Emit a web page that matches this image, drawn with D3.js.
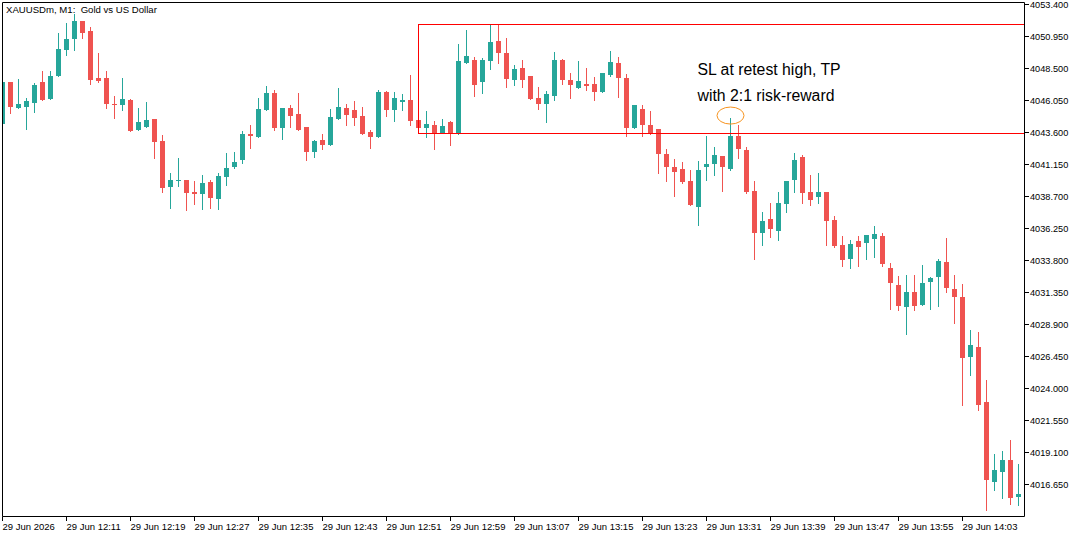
<!DOCTYPE html>
<html>
<head>
<meta charset="utf-8">
<script src="https://cdn.jsdelivr.net/npm/d3@7"></script>
<style>
  html, body { margin: 0; padding: 0; background: #fff; }
  svg { display: block; }
  text { font-family: "Liberation Sans", Arial, sans-serif; fill: #000; white-space: pre; }
</style>
</head>
<body>
<svg id="chart" width="1082" height="537"></svg>
<script>
// XAUUSDm M1 candles, 29 Jun 2026 12:03 - 14:10
const times = [
  "12:03","12:04","12:05","12:06","12:07","12:08","12:09","12:10","12:11","12:12","12:13","12:14","12:15","12:16","12:17","12:18","12:19","12:20","12:21","12:22",
  "12:23","12:24","12:25","12:26","12:27","12:28","12:29","12:30","12:31","12:32","12:33","12:34","12:35","12:36","12:37","12:38","12:39","12:40","12:41","12:42",
  "12:43","12:44","12:45","12:46","12:47","12:48","12:49","12:50","12:51","12:52","12:53","12:54","12:55","12:56","12:57","12:58","12:59","13:00","13:01","13:02",
  "13:03","13:04","13:05","13:06","13:07","13:08","13:09","13:10","13:11","13:12","13:13","13:14","13:15","13:16","13:17","13:18","13:19","13:20","13:21","13:22",
  "13:23","13:24","13:25","13:26","13:27","13:28","13:29","13:30","13:31","13:32","13:33","13:34","13:35","13:36","13:37","13:38","13:39","13:40","13:41","13:42",
  "13:43","13:44","13:45","13:46","13:47","13:48","13:49","13:50","13:51","13:52","13:53","13:54","13:55","13:56","13:57","13:58","13:59","14:00","14:01","14:02",
  "14:03","14:04","14:05","14:06","14:07","14:08","14:09","14:10"
];

const open = [
  4044.24,4047.51,4045.51,4045.59,4045.90,4047.48,4046.18,4047.96,4049.96,4050.80,4052.15,4051.39,4047.79,4047.79,4045.80,4045.74,4046.13,4043.83,4044.04,4044.67,
  4042.97,4039.39,4039.93,4039.98,4039.06,4038.85,4039.83,4038.47,4040.16,4040.92,4041.53,4043.50,4043.22,4045.36,4046.64,4043.98,4045.49,4045.03,4044.04,4042.07,
  4043.04,4042.68,4044.65,4045.49,4045.34,4044.88,4043.65,4043.29,4046.72,4045.29,4045.97,4046.10,4044.57,4043.98,4044.19,4043.60,4044.42,4043.55,4048.96,4049.17,
  4047.51,4049.11,4050.62,4049.70,4047.66,4048.55,4047.94,4046.26,4045.82,4046.43,4049.17,4047.64,4047.05,4047.33,4047.33,4046.74,4048.04,4048.94,4047.79,4043.91,
  4045.42,4044.19,4043.88,4041.97,4040.97,4040.82,4039.90,4037.86,4040.92,4041.15,4041.82,4040.84,4043.35,4042.28,4039.14,4035.87,4036.99,4036.02,4038.09,4039.93,
  4041.74,4039.06,4038.62,4039.06,4036.92,4035.00,4033.88,4035.31,4035.10,4035.41,4035.69,4033.24,4031.94,4030.20,4031.40,4030.36,4032.12,4032.50,4033.70,4031.63,
  4030.95,4026.37,4027.19,4022.91,4016.81,4017.57,4018.47,4015.69
];

const high = [
  4047.55,4047.51,4047.71,4046.23,4047.38,4048.32,4048.32,4051.26,4052.02,4052.69,4052.15,4051.72,4049.73,4048.32,4046.41,4047.79,4046.18,4045.51,4045.95,4044.67,
  4043.42,4040.52,4041.66,4039.98,4039.90,4040.31,4039.98,4040.52,4042.05,4042.12,4043.75,4044.14,4046.26,4047.18,4046.87,4045.49,4045.72,4046.64,4044.04,4043.04,
  4043.50,4045.44,4047.02,4045.80,4046.03,4045.57,4043.83,4046.87,4046.79,4046.72,4046.56,4048.02,4044.57,4045.26,4044.50,4044.65,4044.50,4050.41,4051.46,4049.40,
  4049.32,4051.85,4051.90,4050.85,4048.78,4049.17,4047.94,4047.10,4046.79,4049.78,4049.24,4048.17,4049.09,4048.55,4047.86,4048.17,4049.86,4049.40,4048.10,4045.72,
  4045.72,4045.26,4043.88,4042.35,4041.59,4041.36,4040.74,4041.43,4043.35,4042.51,4041.82,4044.75,4044.14,4042.51,4039.90,4037.53,4038.22,4039.06,4039.90,4042.05,
  4041.89,4040.36,4040.52,4039.06,4037.22,4035.69,4035.38,4035.69,4035.77,4036.46,4035.92,4033.63,4032.63,4032.71,4032.71,4033.47,4032.55,4033.93,4035.54,4032.71,
  4032.02,4028.42,4028.34,4024.59,4018.93,4019.16,4020.00,4018.18
];

const low = [
  4044.20,4045.06,4045.51,4043.86,4045.21,4046.10,4046.18,4047.96,4049.55,4049.96,4050.87,4047.33,4047.51,4045.51,4044.75,4045.36,4043.68,4043.83,4044.04,4041.61,
  4039.01,4037.78,4039.47,4037.63,4038.09,4037.71,4037.78,4037.71,4039.54,4040.87,4041.23,4042.38,4043.22,4045.36,4043.83,4043.07,4044.06,4043.83,4041.46,4041.76,
  4042.30,4042.68,4044.60,4044.21,4044.21,4043.45,4042.45,4043.29,4044.90,4044.52,4045.29,4044.14,4043.91,4043.22,4042.30,4043.60,4042.68,4043.45,4048.96,4046.43,
  4046.66,4048.50,4048.96,4047.12,4047.28,4047.12,4046.20,4045.44,4044.44,4046.13,4047.35,4046.28,4047.05,4046.89,4046.13,4046.74,4047.94,4046.36,4043.37,4043.91,
  4043.37,4043.45,4040.46,4039.90,4038.70,4039.70,4038.01,4036.48,4039.93,4040.31,4039.08,4040.69,4041.61,4038.93,4033.88,4034.95,4035.56,4035.33,4037.48,4039.01,
  4038.17,4038.01,4038.17,4034.95,4034.80,4033.34,4033.19,4033.34,4033.88,4034.03,4033.34,4030.05,4029.97,4028.14,4029.97,4030.36,4030.05,4030.28,4031.35,4028.98,
  4022.70,4025.00,4022.32,4014.66,4016.19,4015.58,4015.12,4015.04
];

const close = [
  4047.51,4045.59,4045.80,4046.03,4047.25,4046.10,4047.94,4050.01,4050.77,4052.15,4051.26,4047.64,4047.58,4045.82,4045.75,4046.18,4043.75,4044.42,4044.57,4042.84,
  4039.31,4039.98,4039.98,4038.93,4038.85,4039.75,4038.55,4040.29,4040.90,4041.36,4043.50,4043.37,4045.42,4046.64,4043.98,4045.49,4044.90,4043.83,4042.07,4042.97,
  4042.68,4044.80,4045.57,4044.98,4044.75,4043.45,4043.22,4046.72,4045.36,4046.26,4046.10,4044.52,4043.91,4044.27,4043.60,4044.11,4043.60,4049.09,4049.47,4047.28,
  4049.17,4050.54,4049.73,4047.74,4048.48,4047.66,4046.20,4045.82,4046.56,4049.17,4047.66,4047.28,4047.56,4047.20,4046.74,4048.17,4049.01,4047.81,4043.98,4045.72,
  4044.21,4043.52,4041.92,4040.92,4040.54,4039.77,4038.01,4040.74,4041.20,4041.89,4040.92,4043.35,4042.30,4039.01,4035.87,4036.84,4036.17,4038.22,4039.90,4041.51,
  4038.93,4038.39,4039.06,4036.79,4034.87,4033.80,4035.08,4034.80,4035.77,4035.85,4033.50,4032.04,4030.28,4031.40,4030.28,4032.09,4032.48,4033.78,4031.66,4030.97,
  4026.30,4027.27,4022.70,4016.96,4017.70,4018.47,4015.58,4015.89
];

const yTickLabels = ["4053.400","4050.950","4048.500","4046.050","4043.600","4041.150","4038.700","4036.250",
                     "4033.800","4031.350","4028.900","4026.450","4024.000","4021.550","4019.100","4016.650"];
const xTickTimes = ["12:03","12:11","12:19","12:27","12:35","12:43","12:51","12:59","13:07","13:15","13:23","13:31","13:39","13:47","13:55","14:03"];
const xTickLabels = ["29 Jun 2026","29 Jun 12:11","29 Jun 12:19","29 Jun 12:27","29 Jun 12:35","29 Jun 12:43","29 Jun 12:51","29 Jun 12:59",
                     "29 Jun 13:07","29 Jun 13:15","29 Jun 13:23","29 Jun 13:31","29 Jun 13:39","29 Jun 13:47","29 Jun 13:55","29 Jun 14:03"];

const title = "XAUUSDm, M1:  Gold vs US Dollar";
const boxStart = "12:55", boxHigh = 4051.9, boxLow = 4043.55;
const retestTime = "13:34", retestPrice = 4044.9;
const noteTime = "13:30", notePrices = [4048.02, 4046.05];
const noteLines = ["SL at retest high, TP", "with 2:1 risk-reward"];

const UP = "#26a69a", DOWN = "#ef5350";
const plotL = 2, plotR = 1024, plotT = 2, plotB = 516;

const svg = d3.select("#chart");

const x = d3.scalePoint().domain(times).range([2.5, 1018.5]);
const y = d3.scaleLinear().domain([4016.65, 4053.4]).range([484, 4.7]);
const px = v => Math.floor(v) + 0.5;

const candles = times.map((t, i) => ({ t, o: open[i], h: high[i], l: low[i], c: close[i] }));

svg.append("defs").append("clipPath").attr("id", "plot")
  .append("rect").attr("x", plotL).attr("y", plotT).attr("width", plotR - plotL).attr("height", plotB - plotT);

const plot = svg.append("g").attr("clip-path", "url(#plot)");

const g = plot.selectAll("g.candle").data(candles).join("g")
  .attr("class", "candle")
  .attr("fill", d => d.c >= d.o ? UP : DOWN)
  .attr("stroke", d => d.c >= d.o ? UP : DOWN);

g.append("line")
  .attr("x1", d => px(x(d.t))).attr("x2", d => px(x(d.t)))
  .attr("y1", d => Math.round(y(d.h))).attr("y2", d => Math.round(y(d.l)) + 1)
  .attr("stroke-width", 1);

g.append("rect")
  .attr("stroke", "none")
  .attr("x", d => Math.floor(x(d.t)) - 2)
  .attr("width", 5)
  .attr("y", d => Math.round(y(Math.max(d.o, d.c))))
  .attr("height", d => Math.max(1, Math.round(y(Math.min(d.o, d.c))) - Math.round(y(Math.max(d.o, d.c)))));

// SL / TP box
plot.append("rect")
  .attr("x", px(x(boxStart))).attr("y", px(y(boxHigh)))
  .attr("width", plotR - px(x(boxStart)) + 0.5)
  .attr("height", px(y(boxLow)) - px(y(boxHigh)))
  .attr("fill", "none").attr("stroke", "#ff0000").attr("stroke-width", 1);

// retest marker
plot.append("ellipse")
  .attr("cx", x(retestTime)).attr("cy", y(retestPrice))
  .attr("rx", 13.5).attr("ry", 8.5)
  .attr("fill", "none").attr("stroke", "#f7931e").attr("stroke-width", 1);

plot.selectAll("text.note").data(noteLines).join("text")
  .attr("class", "note")
  .attr("x", x(noteTime) - 1)
  .attr("y", (d, i) => y(notePrices[i]))
  .attr("font-size", 15.8)
  .text(d => d);

// frame
svg.append("path")
  .attr("d", `M${plotL + 0.5},${plotT + 0.5}H${plotR + 0.5}V${plotB + 0.5}H${plotL + 0.5}Z`)
  .attr("fill", "none").attr("stroke", "#000").attr("stroke-width", 1);

// price axis
const yAxis = svg.append("g").attr("font-size", 9.2);
yTickLabels.forEach(lbl => {
  const v = +lbl, yy = px(y(v));
  yAxis.append("line").attr("x1", plotR + 0.5).attr("x2", plotR + 5).attr("y1", yy).attr("y2", yy).attr("stroke", "#000");
  yAxis.append("text").attr("x", plotR + 6).attr("y", yy).attr("dy", "0.35em").text(lbl);
});

// time axis
const xAxis = svg.append("g").attr("font-size", 9.5);
xTickTimes.forEach((t, i) => {
  const xx = px(x(t));
  xAxis.append("line").attr("x1", xx).attr("x2", xx).attr("y1", plotB + 0.5).attr("y2", plotB + 5).attr("stroke", "#000");
  xAxis.append("text").attr("x", xx).attr("y", 530).text(xTickLabels[i]);
});

svg.append("text").attr("x", 6).attr("y", 13).attr("font-size", 9.6).text(title);
</script>
</body>
</html>
